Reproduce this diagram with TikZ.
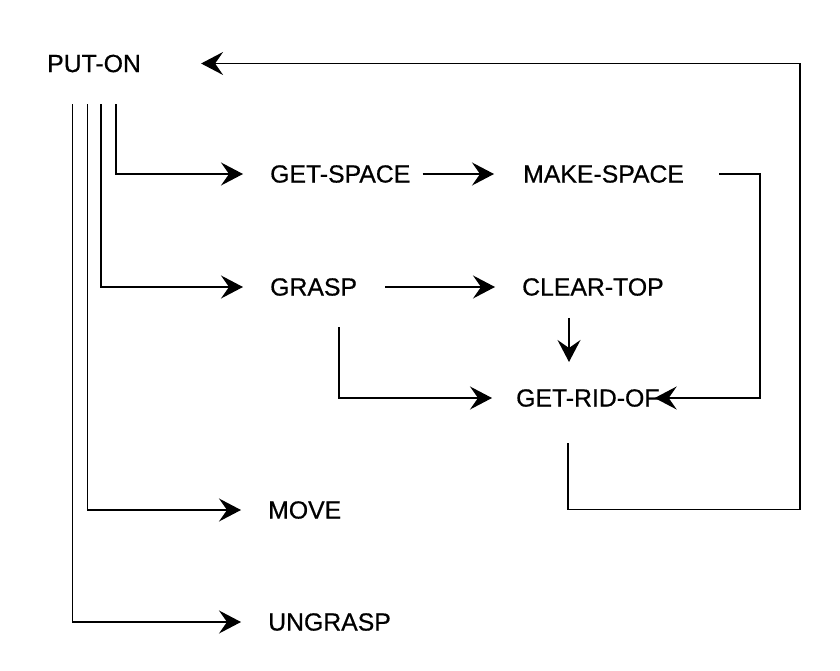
\documentclass[tikz,border=0pt]{standalone}
\usepackage{fontspec}
\setmainfont{Liberation Sans}
\newfontfamily\labelfont[FakeBold=0.6]{Liberation Sans}
\usetikzlibrary{arrows.meta}
\begin{document}
\begin{tikzpicture}[x=1pt,y=1pt,
  lbl/.style={inner sep=0pt, anchor=west, font=\labelfont\fontsize{24.8}{28}\selectfont},
  arr/.style={line width=1.4pt, -{Stealth[length=22pt,width=23pt,inset=8pt]}}]
\useasboundingbox (0,0) rectangle (840,-671);
\node[lbl] (puton) at (47,-63.5) {PUT-ON};
\node[lbl] (getspace) at (270,-174) {GET-SPACE};
\node[lbl] (makespace) at (523,-174) {MAKE-SPACE};
\node[lbl] (grasp) at (270,-287) {GRASP};
\node[lbl] (cleartop) at (522,-287) {CLEAR-TOP};
\node[lbl] (getridof) at (516,-398) {GET-RID-OF};
\node[lbl] (move) at (268,-510) {MOVE};
\node[lbl] (ungrasp) at (268,-622) {UNGRASP};
% from PUT-ON
\draw[arr, shorten >=27pt] ([xshift=69pt,yshift=-32pt]puton.south west) |- (getspace.west);
\draw[arr, shorten >=27pt] ([xshift=54pt,yshift=-32pt]puton.south west) |- (grasp.west);
\draw[arr, shorten >=27pt] ([xshift=40.3pt,yshift=-32pt]puton.south west) |- (move.west);
\draw[arr, shorten >=27pt] ([xshift=25.7pt,yshift=-32pt]puton.south west) |- (ungrasp.west);
% GET-SPACE -> MAKE-SPACE
\draw[arr, shorten <=12pt, shorten >=29pt] (getspace.east) -- (makespace.west);
% MAKE-SPACE -> GET-RID-OF
\draw[arr] ([xshift=35pt]makespace.east) -- ++(41pt,0) |- ([xshift=-5pt]getridof.east);
% GRASP -> CLEAR-TOP
\draw[arr, shorten <=28pt, shorten >=27pt] (grasp.east) -- (cleartop.west);
% CLEAR-TOP -> GET-RID-OF
\draw[arr] ([xshift=47pt,yshift=-22pt]cleartop.south west) -- ++(0,-44pt);
% GRASP -> GET-RID-OF
\draw[arr, shorten >=24pt] ([xshift=69pt,yshift=-31.5pt]grasp.south west) |- (getridof.west);
% GET-RID-OF -> PUT-ON
\draw[arr, shorten >=60pt] ([xshift=52pt,yshift=-36.5pt]getridof.south west) |- ++(232pt,-66pt) |- (puton.east);
\end{tikzpicture}
\end{document}
